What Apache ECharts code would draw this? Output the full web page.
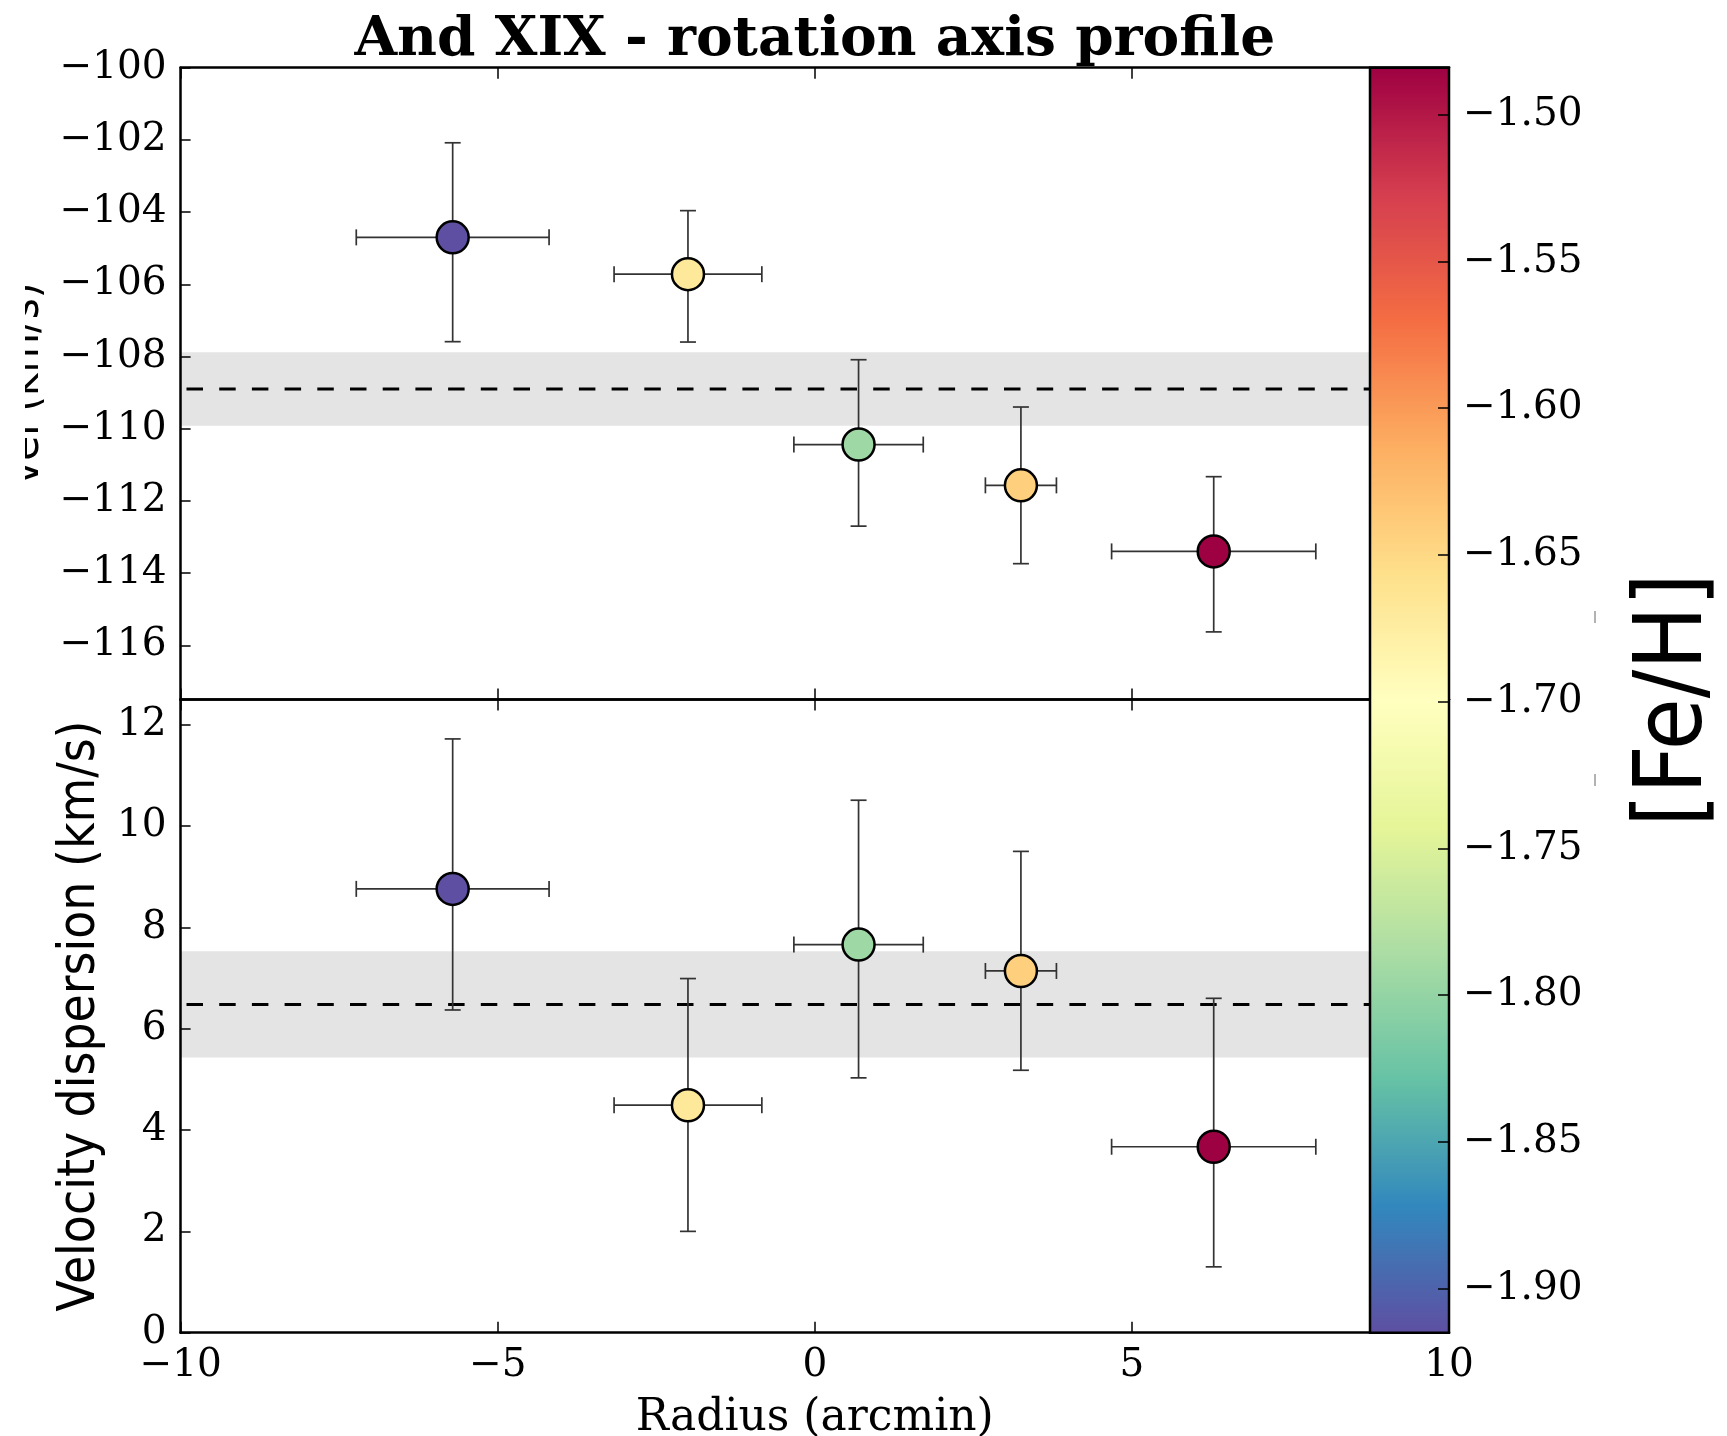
<!DOCTYPE html>
<html>
<head>
<meta charset="utf-8">
<script src="https://cdn.jsdelivr.net/npm/echarts@6/dist/echarts.min.js"></script>
<style>
html,body{margin:0;padding:0;background:#fff;}
#chart{width:1727px;height:1436px;}
</style>
</head>
<body>
<div id="chart"></div>
<script>
// ---- data ----
const radius    = [-5.71, -2.00, 0.69, 3.25, 6.29];
const radiusErr = [1.52, 1.165, 1.02, 0.56, 1.61];
const vel       = [-104.70, -105.72, -110.44, -111.57, -113.40];
const velLow    = [-107.59, -107.60, -112.70, -113.74, -115.63];
const velHigh   = [-102.08, -103.96, -108.09, -109.40, -111.33];
const disp      = [8.76, 4.49, 7.66, 7.14, 3.67];
const dispLow   = [6.37, 2.00, 5.03, 5.18, 1.30];
const dispHigh  = [11.72, 6.99, 10.51, 9.50, 6.60];
const feh       = [-1.915, -1.669, -1.794, -1.643, -1.484];
const velMean = -108.90, velMeanErr = 1.02;
const dispMean = 6.48, dispMeanErr = 1.05;
const xTicks   = [-10, -5, 0, 5, 10];
const velTicks = [-116, -114, -112, -110, -108, -106, -104, -102, -100];
const dispTicks = [0, 2, 4, 6, 8, 10, 12];
const fehTicks = [-1.90, -1.85, -1.80, -1.75, -1.70, -1.65, -1.60, -1.55, -1.50];
const spectralR = ['#5e4fa2','#3288bd','#66c2a5','#abdda4','#e6f598','#ffffbf','#fee08b','#fdae61','#f46d43','#d53e4f','#9e0142'];

// ---- layout ----
const L = 180.6, R = 1449, T = 67.7, M = 699.4, B = 1332.7, CBL = 1370;
const SERIF = '"DejaVu Serif", serif';
const SANS = '"DejaVu Sans Condensed", "DejaVu Sans", sans-serif';
const TICK_FS = 39;
const minus = v => String(v).replace('-', '\u2212');

const chart = echarts.init(document.getElementById('chart'), null, {renderer: 'canvas'});

function xAxisCfg(grid, pos, labels) {
  return {
    type: 'value', gridIndex: grid, position: pos, min: -10, max: 10,
    z: 5,
    axisLine: {show: true, onZero: false, lineStyle: {color: '#000', width: 2.5}},
    axisTick: {show: true, inside: true, length: 11, customValues: xTicks, lineStyle: {color: '#000', width: 1.5}},
    splitLine: {show: false},
    axisLabel: {show: labels, customValues: xTicks, formatter: minus, fontFamily: SERIF, fontSize: TICK_FS, color: '#000', margin: 14},
    name: labels ? 'Radius (arcmin)' : '',
    nameLocation: 'middle', nameGap: 64,
    nameTextStyle: {fontFamily: SERIF, fontSize: 44, color: '#000'}
  };
}

function errRender(params, api) {
  const x = api.value(0), y = api.value(1), lo = api.value(2), hi = api.value(3), xe = api.value(4);
  const t = api.coord([x, hi]), b = api.coord([x, lo]);
  const l = api.coord([x - xe, y]), r = api.coord([x + xe, y]);
  const cap = 8;
  const st = {stroke: '#333', lineWidth: 1.7};
  const ln = (x1, y1, x2, y2) => ({type: 'line', shape: {x1, y1, x2, y2}, style: st});
  return {type: 'group', children: [
    ln(t[0], t[1], b[0], b[1]),
    ln(t[0] - cap, t[1], t[0] + cap, t[1]),
    ln(b[0] - cap, b[1], b[0] + cap, b[1]),
    ln(l[0], l[1], r[0], r[1]),
    ln(l[0], l[1] - cap, l[0], l[1] + cap),
    ln(r[0], r[1] - cap, r[0], r[1] + cap)
  ]};
}

const velErrData = radius.map((x, i) => [x, vel[i], velLow[i], velHigh[i], radiusErr[i]]);
const dispErrData = radius.map((x, i) => [x, disp[i], dispLow[i], dispHigh[i], radiusErr[i]]);
const velPts = radius.map((x, i) => [x, vel[i], feh[i]]);
const dispPts = radius.map((x, i) => [x, disp[i], feh[i]]);

const dashStyle = {color: '#000', width: 3, type: [16.5, 16.2], dashOffset: 26.8};

const option = {
  animation: false,
  backgroundColor: '#fff',
  title: {
    text: 'And XIX - rotation axis profile',
    left: (L + R) / 2, textAlign: 'center', top: 13, padding: 0,
    textStyle: {fontFamily: SERIF, fontWeight: 'bold', fontSize: 55, color: '#000'}
  },
  grid: [
    {left: L, top: T, width: R - L, height: M - T, outerBoundsMode: 'none', containLabel: false},
    {left: L, top: M, width: R - L, height: B - M, outerBoundsMode: 'none', containLabel: false},
    {left: CBL, top: T, width: R - CBL, height: B - T, outerBoundsMode: 'none', containLabel: false}
  ],
  xAxis: [
    xAxisCfg(0, 'bottom', false),
    xAxisCfg(0, 'top', false),
    xAxisCfg(1, 'bottom', true),
    xAxisCfg(1, 'top', false),
    {type: 'value', gridIndex: 2, min: 0, max: 1, show: false}
  ],
  yAxis: [
    {
      type: 'value', gridIndex: 0, min: -117.5, max: -100, z: 5,
      axisLine: {show: true, onZero: false, lineStyle: {color: '#000', width: 2.5}},
      axisTick: {show: true, inside: true, length: 10, customValues: velTicks, lineStyle: {color: '#000', width: 1.5}},
      axisLabel: {customValues: velTicks, formatter: minus, fontFamily: SERIF, fontSize: TICK_FS, color: '#000', margin: 14},
      splitLine: {show: false},
      name: 'vel (km/s)', nameLocation: 'middle', nameGap: 127, nameRotate: 90,
      nameTextStyle: {fontFamily: SANS, fontSize: 45, color: '#000'}
    },
    {
      type: 'value', gridIndex: 1, min: 0, max: 12.5, z: 5,
      axisLine: {show: true, onZero: false, lineStyle: {color: '#000', width: 2.5}},
      axisTick: {show: true, inside: true, length: 10, customValues: dispTicks, lineStyle: {color: '#000', width: 1.5}},
      axisLabel: {customValues: dispTicks, formatter: minus, fontFamily: SERIF, fontSize: TICK_FS, color: '#000', margin: 14},
      splitLine: {show: false},
      name: 'Velocity dispersion (km/s)', nameLocation: 'middle', nameGap: 66, nameRotate: 90,
      nameTextStyle: {fontFamily: SANS, fontSize: 51, color: '#000'}
    },
    {
      type: 'value', gridIndex: 2, position: 'right', min: -1.915, max: -1.484, z: 20,
      axisLine: {show: false, onZero: false},
      axisTick: {show: true, inside: true, length: 11, customValues: fehTicks, lineStyle: {color: '#000', width: 1.5}},
      axisLabel: {customValues: fehTicks, formatter: v => minus(v.toFixed(2)), fontFamily: SERIF, fontSize: TICK_FS, color: '#000', margin: 14},
      splitLine: {show: false}
    }
  ],
  visualMap: {
    type: 'continuous', min: -1.915, max: -1.484, dimension: 2, seriesIndex: [4, 5],
    inRange: {color: spectralR}, calculable: false, showLabel: false, text: null,
    left: CBL, top: T, itemWidth: R - CBL, itemHeight: B - T, padding: 0, orient: 'vertical', z: 10
  },
  series: [
    {type: 'line', xAxisIndex: 0, yAxisIndex: 0, z: 1, symbol: 'none', silent: true,
     data: [[-10, velMean], [10, velMean]], lineStyle: dashStyle,
     markArea: {silent: true, itemStyle: {color: '#e4e4e4'}, data: [[{yAxis: velMean + velMeanErr}, {yAxis: velMean - velMeanErr}]]}},
    {type: 'line', xAxisIndex: 2, yAxisIndex: 1, z: 1, symbol: 'none', silent: true,
     data: [[-10, dispMean], [10, dispMean]], lineStyle: dashStyle,
     markArea: {silent: true, itemStyle: {color: '#e4e4e4'}, data: [[{yAxis: dispMean + dispMeanErr}, {yAxis: dispMean - dispMeanErr}]]}},
    {type: 'custom', xAxisIndex: 0, yAxisIndex: 0, z: 2, renderItem: errRender, data: velErrData, silent: true},
    {type: 'custom', xAxisIndex: 2, yAxisIndex: 1, z: 2, renderItem: errRender, data: dispErrData, silent: true},
    {type: 'scatter', xAxisIndex: 0, yAxisIndex: 0, z: 3, symbolSize: 32, data: velPts,
     itemStyle: {borderColor: '#000', borderWidth: 2.5, opacity: 1}},
    {type: 'scatter', xAxisIndex: 2, yAxisIndex: 1, z: 3, symbolSize: 32, data: dispPts,
     itemStyle: {borderColor: '#000', borderWidth: 2.5, opacity: 1}}
  ],
  graphic: [
    {type: 'rect', z: 100, shape: {x: CBL, y: T, width: R - CBL, height: B - T},
     style: {fill: 'none', stroke: '#000', lineWidth: 2.5}},
    {type: 'rect', z: 100, shape: {x: 0, y: 200, width: 25, height: 360}, style: {fill: '#fff'}},
    {type: 'text', z: 100, x: 1677, y: 700, rotation: Math.PI / 2,
     style: {text: '[Fe/H]', font: '94px "DejaVu Sans Condensed", "DejaVu Sans", sans-serif', fill: '#000', textAlign: 'center', textVerticalAlign: 'middle'}},
    {type: 'line', z: 100, shape: {x1: 1595, y1: 611, x2: 1595, y2: 623}, style: {stroke: '#666', lineWidth: 1}},
    {type: 'line', z: 100, shape: {x1: 1595, y1: 774, x2: 1595, y2: 786}, style: {stroke: '#666', lineWidth: 1}}
  ]
};
chart.setOption(option);
</script>
</body>
</html>
